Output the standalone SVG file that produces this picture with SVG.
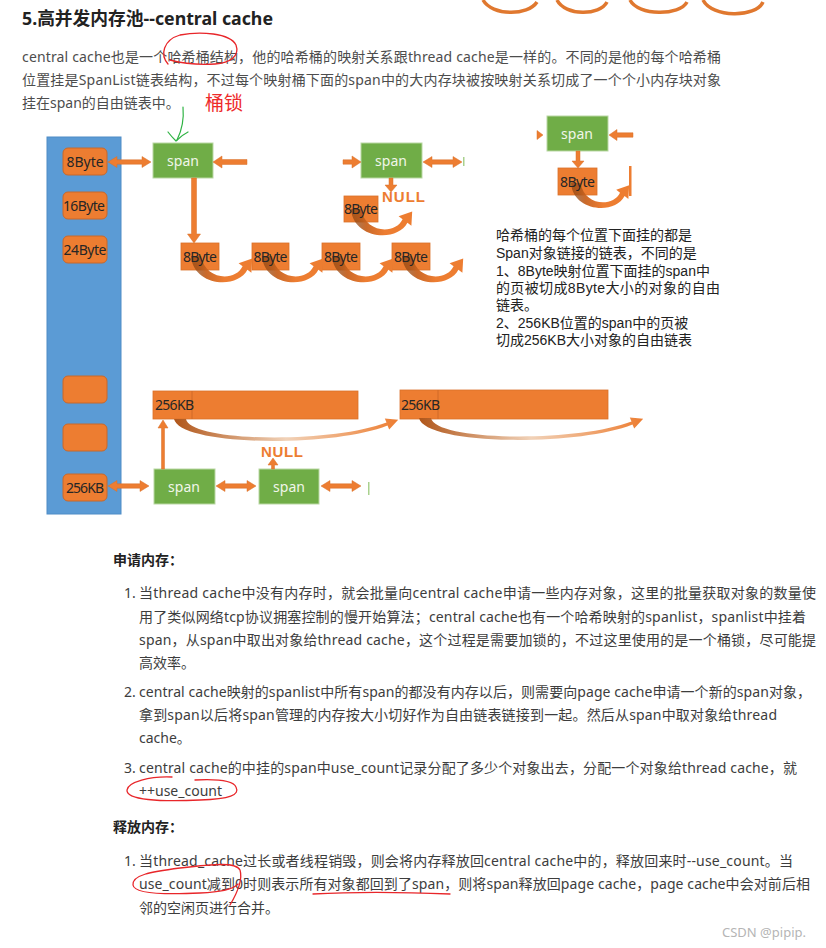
<svg xmlns="http://www.w3.org/2000/svg" xmlns:xlink="http://www.w3.org/1999/xlink" width="826" height="948" viewBox="0 0 826 948">
<style>
.bg{fill:#ffffff}
.title{font-family:"Noto Sans","Noto Sans CJK SC",sans-serif;font-size:18px;font-weight:bold;fill:#222}
.para{font-family:"Noto Sans","Noto Sans CJK SC",sans-serif;font-size:14px;fill:#4d4d4d}
.li{font-family:"Noto Sans","Noto Sans CJK SC",sans-serif;font-size:14px;fill:#3d3d3d}
.h{font-family:"Noto Sans CJK SC","Noto Sans",sans-serif;font-size:14px;font-weight:bold;fill:#222}
.note{font-family:"Liberation Sans","Noto Sans CJK SC",sans-serif;font-size:14px;fill:#222}
.red{font-family:"Noto Sans CJK SC",sans-serif;font-size:19px;fill:#ee2a2a}
.col{fill:#5b9bd5;stroke:#4f8cc6;stroke-width:1}
.rb{fill:#ed7d31;stroke:#c8682a;stroke-width:1}
.ob{fill:#ed7d31;stroke:#d9702a;stroke-width:0.8}
.sp{fill:#70ad47;stroke:#b9d7a3;stroke-width:1}
.spt{font-family:"Noto Sans",sans-serif;font-size:14px;fill:#f0f6ea;text-anchor:middle}
.bt{font-family:"Noto Sans",sans-serif;font-size:14px;fill:#262626;text-anchor:middle}
.bt2{font-family:"Noto Sans",sans-serif;font-size:14px;fill:#262626}
.ar{fill:#ed7d31;stroke:#d8702b;stroke-width:0.5}
.null{font-family:"Liberation Sans",sans-serif;font-size:15px;font-weight:bold;fill:#ed7d31}
.gbar{fill:#a9d18e}
.mark{fill:none;stroke:#e8262a;stroke-width:1.3;stroke-linecap:round}
.csdn{font-family:"Noto Sans",sans-serif;font-size:13px;fill:#b5b5b5}
</style>
<defs>
<linearGradient id="cg" x1="0" y1="0" x2="1" y2="0">
<stop offset="0" stop-color="#7a3a0c" stop-opacity="0.6"/>
<stop offset="0.25" stop-color="#c8621f" stop-opacity="0.95"/>
<stop offset="0.55" stop-color="#ed7d31"/>
<stop offset="1" stop-color="#ed7d31"/>
</linearGradient>
<linearGradient id="lg" x1="0" y1="0" x2="1" y2="0">
<stop offset="0" stop-color="#b0561a"/>
<stop offset="0.5" stop-color="#f1d2b8"/>
<stop offset="1" stop-color="#ed7d31"/>
</linearGradient>
<path id="carrow" d="M0,0 C2,30 46,34 56.4,13.8 L60.4,16.8 L61.2,2.4 L47.6,7.2 L51.6,10.2 C44,26 14,24 10,0 Z" fill="url(#cg)"/>
<path id="larrow" d="M174,419 C180,446 330,448 387.5,425.4 L389.2,429.6 L398.2,419.7 L384.8,418.4 L386.5,422.6 C330,444 190,442 186,419 Z" fill="url(#lg)"/>
</defs>
<rect class="bg" x="0" y="0" width="826" height="948"/>

<!-- top remnants of previous figure -->
<g id="top-remnant" fill="none" stroke="#e0782f" stroke-width="3.5">
<path d="M483,0 C492,16 528,16 537,2"/>
<path d="M557,0 C565,16 600,16 607,2"/>
<path d="M630,0 C638,16 680,16 687,2"/>
<path d="M703,0 C712,18 756,18 763,2"/>
</g>

<!-- heading and paragraph -->
<text class="title" x="22" y="25" textLength="251" lengthAdjust="spacingAndGlyphs">5.高并发内存池--central cache</text>
<text class="para" x="22" y="62" textLength="699">central cache也是一个哈希桶结构，他的哈希桶的映射关系跟thread cache是一样的。不同的是他的每个哈希桶</text>
<text class="para" x="22" y="85" textLength="699">位置挂是SpanList链表结构，不过每个映射桶下面的span中的大内存块被按映射关系切成了一个个小内存块对象</text>
<text class="para" x="22" y="108">挂在span的自由链表中。</text>
<text class="red" x="205" y="110">桶锁</text>
<path class="mark" d="M168,64 C160,55 163,40 180,35 C200,31 230,33 236,45 C240,56 230,63 215,64 C200,65 185,64 170,60"/>
<g fill="none" stroke="#2fb344" stroke-width="1.2" stroke-linecap="round">
<path d="M183,107 C184,118 182,130 177,140"/>
<path d="M168,132 C171,136 174,139 176,141 C180,137 184,134 188,132"/>
</g>

<!-- nodes -->
<g id="hash-column"><rect class="col" x="47" y="137" width="74" height="377"/></g>
<g id="b8"><rect class="rb" x="63" y="148" width="44" height="27" rx="5"/><text class="bt" x="85" y="167">8Byte</text></g>
<g id="b16"><rect class="rb" x="63" y="192" width="44" height="27" rx="5"/><text class="bt" x="84" y="211" textLength="42">16Byte</text></g>
<g id="b24"><rect class="rb" x="63" y="236" width="44" height="27" rx="5"/><text class="bt" x="85" y="255" textLength="43">24Byte</text></g>
<g id="bx1"><rect class="rb" x="63" y="376" width="44" height="27" rx="5"/></g>
<g id="bx2"><rect class="rb" x="63" y="424" width="44" height="27" rx="5"/></g>
<g id="b256"><rect class="rb" x="63" y="474" width="44" height="27" rx="5"/><text class="bt" x="85" y="493" textLength="38">256KB</text></g>

<g id="span1"><rect class="sp" x="153" y="143" width="60" height="35"/><text class="spt" x="183" y="166">span</text></g>
<g id="span2"><rect class="sp" x="361" y="143" width="61" height="35"/><text class="spt" x="391" y="166">span</text></g>
<g id="span3"><rect class="sp" x="547" y="116" width="61" height="35"/><text class="spt" x="577" y="139">span</text></g>
<g id="span4"><rect class="sp" x="154" y="469" width="61" height="35"/><text class="spt" x="184" y="492">span</text></g>
<g id="span5"><rect class="sp" x="259" y="469" width="60" height="35"/><text class="spt" x="289" y="492">span</text></g>

<g id="c1"><rect class="ob" x="181" y="243" width="38" height="27"/></g>
<g id="c2"><rect class="ob" x="252" y="243" width="37" height="27"/></g>
<g id="c3"><rect class="ob" x="322" y="243" width="38" height="27"/></g>
<g id="c4"><rect class="ob" x="392" y="243" width="38" height="27"/></g>
<g id="m1"><rect class="ob" x="344" y="196" width="34" height="26"/></g>
<g id="r1"><rect class="ob" x="558" y="168" width="39" height="27"/></g>
<g id="kb1"><rect class="ob" x="153" y="391" width="205" height="28"/><line x1="192" y1="391" x2="192" y2="419" stroke="#d06a28" stroke-width="1"/></g>
<g id="kb2"><rect class="ob" x="400" y="390" width="208" height="29"/><line x1="438" y1="390" x2="438" y2="419" stroke="#d06a28" stroke-width="1"/></g>

<!-- connectors -->
<g id="connectors">
<path class="ar" d="M108,162 L117,156.5 L117,159.8 L142,159.8 L142,156.5 L151,162 L142,167.5 L142,164.2 L117,164.2 L117,167.5 Z"/>
<path class="ar" d="M213,162 L222,156 L222,159.5 L247,159.5 L247,164.5 L222,164.5 L222,168 Z"/>
<path class="ar" d="M191.5,178 L196.5,178 L196.5,234 L200.5,234 L194,243 L187.5,234 L191.5,234 Z"/>
<path class="ar" d="M343,159.8 L352,159.8 L352,156 L361,162 L352,168 L352,164.2 L343,164.2 Z"/>
<path class="ar" d="M423,162 L432,156.5 L432,159.8 L453,159.8 L453,156.5 L462,162 L453,167.5 L453,164.2 L432,164.2 L432,167.5 Z"/>
<rect class="gbar" x="463" y="157" width="1.5" height="9"/>
<path class="ar" d="M389,178 L393,178 L393,185 L397,185 L391,192 L385,185 L389,185 Z"/>
<path class="ar" d="M537,130.5 L543,135 L537,139.5 Z"/>
<path class="ar" d="M609,135 L617,129.5 L617,132.8 L633,132.8 L633,137.2 L617,137.2 L617,140.5 Z"/>
<path class="ar" d="M576,151 L580,151 L580,161 L584,161 L578,168 L572,161 L576,161 Z"/>
<rect x="629" y="166" width="2.5" height="30" fill="#ed7d31"/>
<path class="ar" d="M108,486 L117,480.5 L117,483.8 L140,483.8 L140,480.5 L149,486 L140,491.5 L140,488.2 L117,488.2 L117,491.5 Z"/>
<path class="ar" d="M216,486 L225,480.5 L225,483.8 L247,483.8 L247,480.5 L256,486 L247,491.5 L247,488.2 L225,488.2 L225,491.5 Z"/>
<path class="ar" d="M321,486 L330,480.5 L330,483.8 L352,483.8 L352,480.5 L361,486 L352,491.5 L352,488.2 L330,488.2 L330,491.5 Z"/>
<rect class="gbar" x="368" y="482" width="1.5" height="13"/>
<path class="ar" d="M161.5,469 L164.5,469 L164.5,428 L168,428 L163,420 L158,428 L161.5,428 Z"/>
<path class="ar" d="M271.5,469 L274.5,469 L274.5,465 L278,465 L273,458 L268,465 L271.5,465 Z"/>
<use xlink:href="#carrow" transform="translate(191,256)"/>
<use xlink:href="#carrow" transform="translate(262,256)"/>
<use xlink:href="#carrow" transform="translate(332,256)"/>
<use xlink:href="#carrow" transform="translate(402,256)"/>
<use xlink:href="#carrow" transform="translate(351,209)"/>
<use xlink:href="#carrow" transform="translate(571,183) scale(0.95)"/>
<use xlink:href="#larrow"/>
<use xlink:href="#larrow" transform="translate(245,-1)"/>
</g>

<!-- labels on boxes (drawn above connectors) -->
<g id="labels">
<text class="bt" x="200" y="262" textLength="34">8Byte</text>
<text class="bt" x="270.5" y="262" textLength="34">8Byte</text>
<text class="bt" x="341" y="262" textLength="34">8Byte</text>
<text class="bt" x="411" y="262" textLength="34">8Byte</text>
<text class="bt" x="361" y="214" textLength="34">8Byte</text>
<text class="bt" x="577.5" y="187" textLength="35">8Byte</text>
<text class="bt2" x="155" y="410" textLength="39">256KB</text>
<text class="bt2" x="401" y="410" textLength="39">256KB</text>
<text class="null" x="382" y="202" textLength="43">NULL</text>
<text class="null" x="261" y="457" textLength="42">NULL</text>
</g>

<!-- side note -->
<g id="note">
<text class="note" x="496" y="240">哈希桶的每个位置下面挂的都是</text>
<text class="note" x="496" y="258">Span对象链接的链表，不同的是</text>
<text class="note" x="496" y="276">1、8Byte映射位置下面挂的span中</text>
<text class="note" x="496" y="293" textLength="224">的页被切成8Byte大小的对象的自由</text>
<text class="note" x="496" y="310">链表。</text>
<text class="note" x="496" y="328">2、256KB位置的span中的页被</text>
<text class="note" x="496" y="345">切成256KB大小对象的自由链表</text>
</g>

<!-- lists -->
<text class="h" x="113" y="565">申请内存：</text>
<text class="li" x="124" y="598">1.</text>
<text class="li" x="139" y="598" textLength="677">当thread cache中没有内存时，就会批量向central cache申请一些内存对象，这里的批量获取对象的数量使</text>
<text class="li" x="139" y="622" textLength="667">用了类似网络tcp协议拥塞控制的慢开始算法；central cache也有一个哈希映射的spanlist，spanlist中挂着</text>
<text class="li" x="139" y="645" textLength="677">span，从span中取出对象给thread cache，这个过程是需要加锁的，不过这里使用的是一个桶锁，尽可能提</text>
<text class="li" x="139" y="668">高效率。</text>
<text class="li" x="124" y="697">2.</text>
<text class="li" x="139" y="697" textLength="672">central cache映射的spanlist中所有span的都没有内存以后，则需要向page cache申请一个新的span对象，</text>
<text class="li" x="139" y="720" textLength="638">拿到span以后将span管理的内存按大小切好作为自由链表链接到一起。然后从span中取对象给thread</text>
<text class="li" x="139" y="743">cache。</text>
<text class="li" x="124" y="773">3.</text>
<text class="li" x="139" y="773" textLength="658">central cache的中挂的span中use_count记录分配了多少个对象出去，分配一个对象给thread cache，就</text>
<text class="li" x="139" y="796">++use_count</text>
<path class="mark" d="M172,777 C150,776 128,782 127,790 C126,800 160,802 200,800 C230,799 240,795 236,787 C233,780 215,779 195,780"/>
<text class="h" x="113" y="832">释放内存：</text>
<text class="li" x="124" y="866">1.</text>
<text class="li" x="139" y="866" textLength="654">当thread_cache过长或者线程销毁，则会将内存释放回central cache中的，释放回来时--use_count。当</text>
<text class="li" x="139" y="889" textLength="671">use_count减到0时则表示所有对象都回到了span，则将span释放回page cache，page cache中会对前后相</text>
<text class="li" x="139" y="913">邻的空闲页进行合并。</text>
<path class="mark" d="M230,905 C236,895 243,880 240,870 C236,862 215,864 180,868 C150,872 132,875 133,885 C134,893 160,895 200,893 C220,892 232,890 238,884"/>
<path class="mark" d="M313,894 C350,892 400,892 450,894"/>
<text class="csdn" x="722" y="937">CSDN @pipip.</text>
</svg>
